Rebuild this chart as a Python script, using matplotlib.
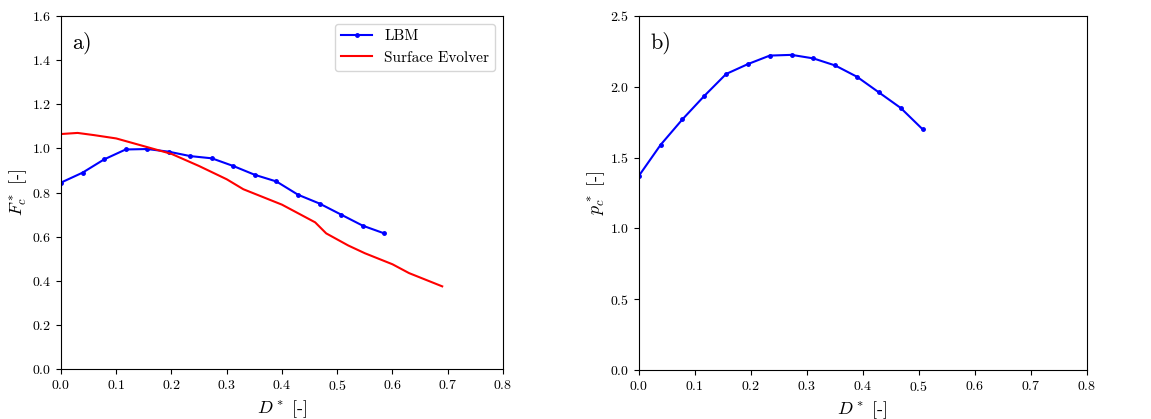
import numpy as np
import matplotlib
matplotlib.use('Agg')
from matplotlib import pyplot as plt

plt.rcParams['font.family'] = ['cmr10', 'DejaVu Serif']
plt.rcParams['mathtext.fontset'] = 'cm'
plt.rcParams['axes.formatter.use_mathtext'] = True
plt.rcParams['axes.unicode_minus'] = False

# panel a) LBM
d_lbm = [0.0, 0.039, 0.078, 0.117, 0.156, 0.195, 0.234, 0.273, 0.312, 0.351,
         0.39, 0.429, 0.468, 0.507, 0.546, 0.585]
f_lbm = [0.845, 0.89, 0.95, 0.995, 0.997, 0.985, 0.965, 0.955, 0.92, 0.88,
         0.85, 0.79, 0.75, 0.70, 0.65, 0.615]

# panel a) Surface Evolver
d_se = [0.0, 0.03, 0.06, 0.1, 0.15, 0.2, 0.25, 0.3, 0.33, 0.36, 0.4, 0.43,
        0.46, 0.48, 0.52, 0.55, 0.6, 0.63, 0.66, 0.69]
f_se = [1.065, 1.07, 1.06, 1.045, 1.01, 0.975, 0.92, 0.86, 0.815, 0.785,
        0.745, 0.705, 0.665, 0.615, 0.56, 0.525, 0.475, 0.435, 0.405, 0.375]

# panel b) LBM pressure
d_p = [0.0, 0.039, 0.078, 0.117, 0.156, 0.195, 0.234, 0.273, 0.312, 0.351,
       0.39, 0.429, 0.468, 0.507]
p_lbm = [1.37, 1.59, 1.77, 1.935, 2.09, 2.16, 2.22, 2.225, 2.2, 2.15,
         2.07, 1.96, 1.85, 1.70]

fig = plt.figure(figsize=(11.51, 4.19), dpi=100)
ax1 = fig.add_axes([0.053, 0.119, 0.384, 0.843])
ax2 = fig.add_axes([0.555, 0.117, 0.389, 0.845])

ax1.plot(d_lbm, f_lbm, '-', color='blue', marker='o', markersize=2.5, lw=1.5, label='LBM')
ax1.plot(d_se, f_se, '-', color='red', lw=1.5, label='Surface Evolver')
ax1.set_xlim(0, 0.8)
ax1.set_ylim(0, 1.6)
ax1.set_xlabel(r'$D^*$ [-]', fontsize=13)
ax1.set_ylabel(r'$F_c^*$ [-]', fontsize=13, labelpad=2)
ax1.text(0.025, 0.955, 'a)', transform=ax1.transAxes, fontsize=16, va='top')
ax1.legend(loc='upper right', fontsize=11)

ax2.plot(d_p, p_lbm, '-', color='blue', marker='o', markersize=2.5, lw=1.5)
ax2.set_xlim(0, 0.8)
ax2.set_ylim(0, 2.5)
ax2.set_xlabel(r'$D^*$ [-]', fontsize=13)
ax2.set_ylabel(r'$p_c^*$ [-]', fontsize=13, labelpad=2)
ax2.text(0.025, 0.955, 'b)', transform=ax2.transAxes, fontsize=16, va='top')

for ax in (ax1, ax2):
    ax.tick_params(labelsize=10)
    ax.set_xticks(np.arange(0, 0.81, 0.1))

fig.savefig('out.png', dpi=100)
